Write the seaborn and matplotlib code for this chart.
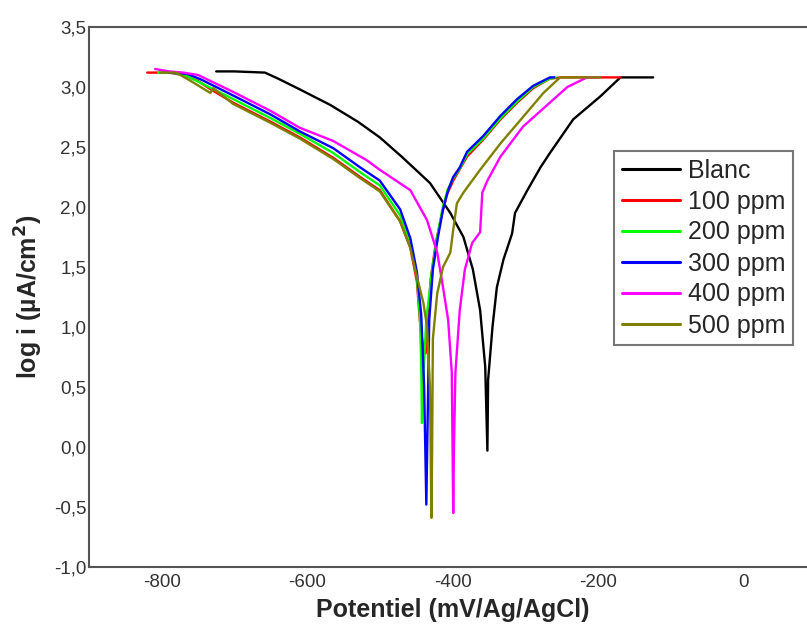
import numpy as np
import pandas as pd
import matplotlib
matplotlib.use("Agg")
import matplotlib.pyplot as plt
import seaborn as sns
from matplotlib.ticker import FuncFormatter

# Tafel polarisation curves: potential (mV vs Ag/AgCl) and log current density
blanc_E = [-725, -700, -658, -640, -610, -568, -530, -500, -470, -431, -403, -385, -372, -362,
           -358, -355, -352, -351, -345, -339, -330, -318, -314, -297, -279, -266, -234, -197,
           -169, -124]
blanc_logi = [3.13, 3.13, 3.12, 3.07, 2.98, 2.85, 2.71, 2.58, 2.42, 2.20, 1.95, 1.75, 1.48, 1.14,
              0.87, 0.67, -0.03, 0.56, 1.00, 1.33, 1.56, 1.78, 1.95, 2.14, 2.33, 2.45, 2.73, 2.92,
              3.08, 3.08]

ppm100_E = [-820, -790, -770, -750, -735, -702, -650, -610, -564, -527, -500, -472, -458, -449,
            -445, -441, -437, -435, -430, -423, -415, -408, -399, -380, -358, -334, -311, -289,
            -266, -250, -169]
ppm100_logi = [3.12, 3.12, 3.10, 3.05, 2.99, 2.87, 2.71, 2.58, 2.41, 2.25, 2.14, 1.88, 1.66, 1.38,
               1.06, 0.85, 0.78, 0.95, 1.40, 1.70, 1.93, 2.10, 2.22, 2.42, 2.56, 2.73, 2.87, 2.99,
               3.07, 3.08, 3.08]

ppm200_E = [-805, -785, -765, -745, -702, -650, -610, -564, -527, -500, -472, -458, -449, -445,
            -443, -442, -441, -436, -428, -421, -414, -407, -399, -390, -380, -358, -334, -311,
            -289, -266, -258]
ppm200_logi = [3.12, 3.12, 3.09, 3.03, 2.90, 2.74, 2.61, 2.45, 2.29, 2.18, 1.93, 1.70, 1.42, 1.10,
               0.70, 0.20, 0.50, 1.06, 1.48, 1.75, 1.98, 2.14, 2.24, 2.32, 2.44, 2.57, 2.74, 2.88,
               3.00, 3.07, 3.08]

ppm300_E = [-790, -765, -745, -702, -650, -610, -564, -527, -500, -472, -458, -449, -443, -439,
            -436, -434, -432, -427, -420, -413, -406, -399, -390, -380, -358, -334, -311, -289,
            -266, -260]
ppm300_logi = [3.12, 3.11, 3.06, 2.93, 2.77, 2.63, 2.49, 2.33, 2.22, 1.98, 1.74, 1.46, 1.10, 0.50,
               -0.48, 0.30, 1.06, 1.48, 1.75, 1.98, 2.14, 2.25, 2.33, 2.46, 2.59, 2.76, 2.90, 3.01,
               3.08, 3.08]

ppm400_E = [-809, -790, -770, -750, -702, -650, -610, -564, -518, -500, -458, -435, -421, -413,
            -406, -401, -399, -398, -396, -390, -383, -373, -362, -359, -352, -334, -303, -266,
            -242, -215, -200]
ppm400_logi = [3.15, 3.13, 3.12, 3.10, 2.96, 2.80, 2.66, 2.55, 2.39, 2.31, 2.14, 1.89, 1.62, 1.33,
               1.06, 0.62, -0.55, 0.00, 0.62, 1.14, 1.48, 1.70, 1.79, 2.12, 2.22, 2.42, 2.67, 2.87,
               3.00, 3.08, 3.08]

ppm500_E = [-802, -780, -760, -733, -729, -702, -650, -610, -564, -527, -500, -472, -458, -449,
            -440, -435, -431, -429, -428, -427, -421, -413, -403, -399, -394, -385, -362, -334,
            -303, -275, -252, -197]
ppm500_logi = [3.12, 3.12, 3.05, 2.95, 2.99, 2.86, 2.70, 2.57, 2.40, 2.24, 2.13, 1.88, 1.66, 1.42,
               1.20, 1.00, 0.50, -0.59, 0.00, 0.90, 1.28, 1.50, 1.62, 1.81, 2.03, 2.12, 2.31, 2.53,
               2.75, 2.95, 3.08, 3.08]

series_names = ["Blanc", "100 ppm", "200 ppm", "300 ppm", "400 ppm", "500 ppm"]
series_E = [blanc_E, ppm100_E, ppm200_E, ppm300_E, ppm400_E, ppm500_E]
series_logi = [blanc_logi, ppm100_logi, ppm200_logi, ppm300_logi, ppm400_logi, ppm500_logi]
colors = ["#000000", "#FF0000", "#00FF00", "#0000FF", "#FF00FF", "#808000"]

x_ticks = [-800, -600, -400, -200, 0]
y_ticks = [-1.0, -0.5, 0.0, 0.5, 1.0, 1.5, 2.0, 2.5, 3.0, 3.5]

frames = []
for name, E, li in zip(series_names, series_E, series_logi):
    frames.append(pd.DataFrame({"E": E, "logi": li, "serie": name}))
df = pd.concat(frames, ignore_index=True)

sns.set_theme(style="white")
plt.rcParams["font.family"] = ["Liberation Sans", "DejaVu Sans"]

fig = plt.figure(figsize=(8.07, 6.24), dpi=100)
ax = fig.add_axes([89 / 807, 1 - 567 / 624, 727 / 807, 540 / 624])

sns.lineplot(data=df, x="E", y="logi", hue="serie", hue_order=series_names,
             palette=colors, sort=False, estimator=None, linewidth=1.7, ax=ax)

ax.set_xlim(-900, 100)
ax.set_ylim(-1.0, 3.5)
ax.set_xticks(x_ticks)
ax.set_yticks(y_ticks)
ax.yaxis.set_major_formatter(FuncFormatter(lambda v, p: f"{v:.1f}".replace(".", ",")))
ax.xaxis.set_major_formatter(FuncFormatter(lambda v, p: f"{v:.0f}"))
ax.tick_params(axis="both", length=0, labelsize=13.5, colors="#333333")
ax.tick_params(axis="y", pad=2)
ax.tick_params(axis="x", pad=5)

for side in ["left", "bottom", "top"]:
    ax.spines[side].set_color("#555555")
    ax.spines[side].set_linewidth(1.5)
ax.spines["right"].set_visible(False)

ax.set_xlabel("Potentiel (mV/Ag/AgCl)", fontsize=18, fontweight="bold", labelpad=5)
ax.set_ylabel("log i (µA/cm$^\\mathbf{2}$)", fontsize=18, fontweight="bold", labelpad=6)

leg = ax.legend(loc="upper left", bbox_to_anchor=(614 / 807, 1 - 151 / 624),
                bbox_transform=fig.transFigure, fontsize=18, frameon=True, fancybox=False,
                borderaxespad=0, handlelength=2.35, handletextpad=0.3, labelspacing=0.28,
                borderpad=0.3)
leg.get_frame().set_edgecolor("#555555")
leg.get_frame().set_linewidth(1.5)
for line in leg.get_lines():
    line.set_linewidth(2.2)

fig.savefig("out.png", dpi=100)
